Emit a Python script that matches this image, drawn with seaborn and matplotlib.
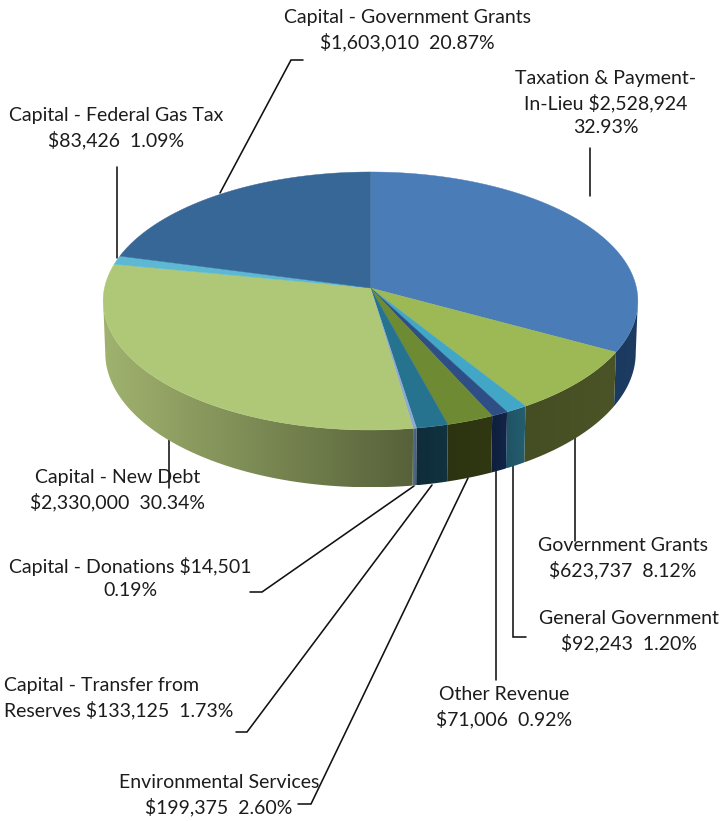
import numpy as np
import matplotlib
matplotlib.use('Agg')
import matplotlib.pyplot as plt
from matplotlib.patches import Polygon
import seaborn as sns

sns.set_theme(style='white')
plt.rcParams['font.family'] = ['Lato', 'DejaVu Sans']

# clockwise from 12 o'clock
names = ['Taxation & Payment-\nIn-Lieu $2,528,924\n32.93%',
         'Government Grants\n$623,737  8.12%',
         'General Government\n$92,243  1.20%',
         'Other Revenue\n$71,006  0.92%',
         'Environmental Services\n$199,375  2.60%',
         'Capital - Transfer from\nReserves $133,125  1.73%',
         'Capital - Donations $14,501\n0.19%',
         'Capital - New Debt\n$2,330,000  30.34%',
         'Capital - Federal Gas Tax\n$83,426  1.09%',
         'Capital - Government Grants\n$1,603,010  20.87%']
amounts = [2528924, 623737, 92243, 71006, 199375, 133125, 14501, 2330000, 83426, 1603010]
top_colors = ['#4A7DB8', '#9DB956', '#42A6C6', '#2D4F85', '#6E8A33',
              '#26738F', '#8FAAD0', '#AFC878', '#5DB9D3', '#376797']
# wall shade at the left and right end of each slice
wall_left = ['#1B3A60', '#454E22', '#1F5364', '#0F1F3C', '#2C3310',
             '#0F2C3A', '#54708F', '#A0B26E', '#4A98AE', '#2A4F78']
wall_right = ['#1E3C60', '#4A5427', '#245E70', '#12254A', '#303812',
              '#10333F', '#3F5A7A', '#57623A', '#4A98AE', '#2A4F78']

# label x, centre y, alignment / leader path
label_pos = [(606, 103, 'center'), (623, 558, 'center'), (629, 631, 'center'),
             (504, 707, 'center'), (219, 795, 'center'), (4, 698, 'left'),
             (130, 578, 'center'), (118, 490, 'center'), (116, 128, 'center'),
             (407, 30, 'center')]
leaders = [[(590, 196), (590, 148)],
           [(575, 438), (575, 541)],
           [(513, 462), (513, 637), (526, 637)],
           [(496, 466), (496, 680)],
           [(468, 478), (311, 804), (298, 804)],
           [(432, 485), (247, 732), (236, 732)],
           [(414, 486), (262, 592), (250, 592)],
           [(169, 436), (169, 488)],
           [(117, 258), (117, 167)],
           [(220, 193), (291, 60), (303, 60)]]

# pie geometry in image pixels
cx, cy = 370.5, 288
rx, ry = 266, 127.7
persp = 0.1007
depth = 51.5
base_shrink = 0.992
# only this part of the rim shows a wall
front = np.radians([95.8, 264.2])


def rim(theta):
    X, Y = np.sin(theta), -np.cos(theta)
    f = 1 / (1 - persp * Y)
    return cx + rx * X * f, cy + ry * Y * f, f


fig, ax = plt.subplots(figsize=(7.24, 8.21), dpi=100)
fig.subplots_adjust(0, 0, 1, 1)
ax.set_xlim(0, 724)
ax.set_ylim(821, 0)
ax.set_autoscale_on(False)
ax.axis('off')

shares = np.array(amounts) / sum(amounts)
edges = np.concatenate([[0], np.cumsum(shares)]) * 2 * np.pi

# side wall: a horizontal gradient clipped to each slice's strip
for i in range(len(amounts)):
    a, b = max(edges[i], front[0]), min(edges[i + 1], front[1])
    if b <= a:
        continue
    t = np.linspace(a, b, 80)
    x, y, f = rim(t)
    xb = cx + (x - cx) * base_shrink
    yb = y + depth * f
    px = np.r_[x, xb[::-1]]
    py = np.r_[y, yb[::-1]]
    ramp = np.array(sns.blend_palette([wall_left[i], wall_right[i]], 64))[None, :, :]
    im = ax.imshow(ramp, extent=(px.min(), px.max(), py.max(), py.min()), aspect='auto',
                   interpolation='bilinear', zorder=2)
    im.set_clip_path(Polygon(np.c_[px, py], transform=ax.transData))

# top faces
for i in range(len(amounts)):
    t = np.linspace(edges[i], edges[i + 1], max(4, int(shares[i] * 400)))
    x, y, _ = rim(t)
    ax.fill(np.r_[cx, x], np.r_[cy, y], color=top_colors[i], lw=0.3, zorder=3)

for path in leaders:
    ax.plot(*zip(*path), color='#111111', lw=1.15, zorder=1, solid_joinstyle='miter')

for name, (lx, ly, ha) in zip(names, label_pos):
    ax.text(lx, ly, name, ha=ha, va='center', fontsize=14, color='#1c1c1c',
            linespacing=1.42, zorder=5)

fig.savefig('out.png', dpi=100)
